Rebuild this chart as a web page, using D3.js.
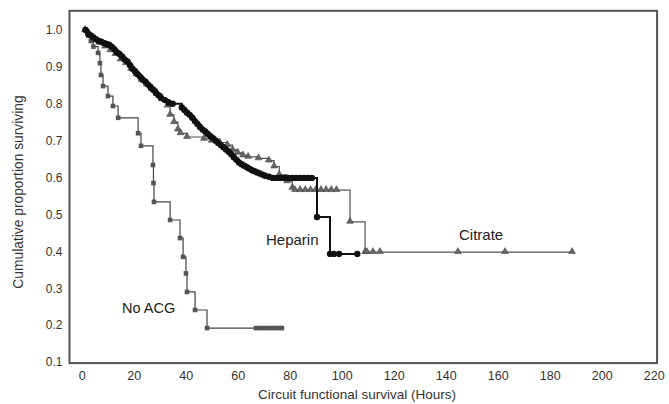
<!DOCTYPE html>
<html>
<head>
<meta charset="utf-8">
<script src="https://cdn.jsdelivr.net/npm/d3@7"></script>
<style>
  html, body { margin: 0; padding: 0; background: #fff; }
  svg { display: block; }
  text { font-family: Arial, "Liberation Sans", sans-serif; }
</style>
</head>
<body>
<svg id="chart" width="669" height="404"></svg>
<script>
// ---- data ----
const xTicks = [0, 20, 40, 60, 80, 100, 120, 140, 160, 180, 200, 220];
const yTicks = [1.0, 0.9, 0.8, 0.7, 0.6, 0.5, 0.4, 0.3, 0.2, 0.1];
const yTickLabels = ["1.0", "0.9", "0.8", "0.7", "0.6", "0.5", "0.4", "0.3", "0.2", "0.1"];

// No ACG: [time (h), cumulative proportion surviving]
const noAcgSteps = [
  [1.3, 1.0], [2.5, 0.985], [3.5, 0.97], [4.5, 0.955], [6.3, 0.938], [7.0, 0.91],
  [7.4, 0.878], [8.2, 0.848], [10.1, 0.821], [12.0, 0.794], [14.0, 0.762],
  [21.7, 0.72], [22.8, 0.686], [27.4, 0.634], [27.6, 0.585], [27.8, 0.534],
  [34.0, 0.485], [37.8, 0.436], [39.0, 0.385], [40.1, 0.34], [40.5, 0.29],
  [43.6, 0.241], [48.2, 0.192]
];
const noAcgCensored = [67, 68.5, 70, 71.5, 73, 74.5, 76, 77];

// Heparin
const heparinSteps = [
  [1.5, 1.0], [2.5, 0.99], [3.5, 0.985], [4.5, 0.98], [5.5, 0.975], [6.5, 0.97],
  [7.5, 0.968], [8.5, 0.965], [9.5, 0.962], [10.5, 0.96], [11.5, 0.955], [12.5, 0.948],
  [13.5, 0.94], [14.5, 0.935], [15.5, 0.928], [16.5, 0.92], [17.5, 0.915], [18.5, 0.905],
  [19.5, 0.895], [20.5, 0.888], [21.5, 0.88], [22.5, 0.873], [23.5, 0.865], [24.5, 0.86],
  [25.5, 0.852], [26.5, 0.845], [27.5, 0.838], [28.5, 0.83], [29.5, 0.823], [30.5, 0.816],
  [32.0, 0.81], [33.5, 0.803], [35.0, 0.8], [38.5, 0.79], [39.5, 0.783], [40.5, 0.776],
  [41.5, 0.77], [42.5, 0.762], [43.5, 0.753], [44.5, 0.745], [45.5, 0.737], [46.5, 0.73],
  [47.5, 0.725], [48.5, 0.718], [49.5, 0.712], [50.5, 0.707], [51.5, 0.7], [52.5, 0.694],
  [53.5, 0.688], [54.5, 0.682], [55.5, 0.676], [56.5, 0.67], [57.5, 0.663], [58.5, 0.655],
  [59.5, 0.648], [60.5, 0.641], [61.5, 0.636], [62.5, 0.632], [63.5, 0.628], [64.5, 0.624],
  [65.5, 0.62], [66.5, 0.617], [67.5, 0.614], [68.5, 0.611], [69.5, 0.608], [70.5, 0.605],
  [72.0, 0.602], [73.5, 0.599], [90.5, 0.493], [95.5, 0.393]
];
const heparinCensored = [75, 76.5, 78, 79.5, 81, 82.5, 84, 85.5, 87, 88.5, 97, 99, 106];

// Citrate
const citrateSteps = [
  [1.3, 1.0], [3.0, 0.985], [5.0, 0.975], [7.0, 0.965], [9.0, 0.955], [11.0, 0.945],
  [13.0, 0.935], [15.0, 0.92], [17.0, 0.91], [19.0, 0.895], [21.0, 0.88], [23.0, 0.865],
  [25.0, 0.852], [27.0, 0.84], [29.0, 0.826], [31.0, 0.812], [33.0, 0.795], [34.0, 0.77],
  [35.5, 0.75], [37.0, 0.73], [38.0, 0.72], [40.5, 0.71], [47.0, 0.705], [50.0, 0.7],
  [53.0, 0.695], [56.0, 0.688], [58.0, 0.675], [60.0, 0.667], [62.0, 0.66], [64.0, 0.656],
  [68.0, 0.652], [72.0, 0.646], [74.0, 0.63], [76.0, 0.607], [79.0, 0.59], [81.0, 0.572],
  [82.0, 0.566], [103.2, 0.48], [109.0, 0.398]
];
const citrateCensored = [84, 86, 88, 90, 92, 94, 96, 98, 109.7, 112, 114.7, 144.7, 162.8, 188.6];

// ---- drawing ----
const svg = d3.select("#chart");
const x = d3.scaleLinear().domain([0, 200]).range([81.7, 601.7]);
const y = d3.scaleLinear().domain([0.1, 1.0]).range([362, 30]);

// frame
svg.append("rect")
  .attr("x", x(-4.7)).attr("y", y(1.052))
  .attr("width", x(221.3) - x(-4.7)).attr("height", y(0.097) - y(1.052))
  .attr("fill", "none").attr("stroke", "#555").attr("stroke-width", 2);

// axes (labels only, no tick marks)
const xAxis = d3.axisBottom(x).tickValues(xTicks).tickSize(0).tickPadding(0);
const gx = svg.append("g").attr("transform", `translate(0, ${y(0.097) + 8})`).call(xAxis);
gx.select(".domain").remove();
gx.selectAll("text").attr("font-size", 12.5).attr("fill", "#333").attr("dy", "0.71em")
  .attr("font-family", "Arial, 'Liberation Sans', sans-serif");

const yAxis = d3.axisLeft(y).tickValues(yTicks).tickSize(0).tickPadding(0)
  .tickFormat((d, i) => yTickLabels[i]);
const gy = svg.append("g").attr("transform", `translate(${x(-4.7) - 7}, 0)`).call(yAxis);
gy.select(".domain").remove();
gy.selectAll("text").attr("font-size", 12).attr("fill", "#333")
  .attr("font-family", "Arial, 'Liberation Sans', sans-serif");

// axis titles
svg.append("text")
  .attr("x", 357).attr("y", 399)
  .attr("text-anchor", "middle").attr("font-size", 13.5).attr("fill", "#333")
  .text("Circuit functional survival (Hours)");
svg.append("text")
  .attr("transform", "translate(23, 192) rotate(-90)")
  .attr("text-anchor", "middle").attr("font-size", 13.8).attr("fill", "#333")
  .text("Cumulative proportion surviving");

function levelAt(steps, t) {
  let s = steps[0][1];
  for (const p of steps) if (p[0] <= t) s = p[1];
  return s;
}
function pathPoints(steps, censored) {
  const pts = steps.map(d => [d[0], d[1]]);
  censored.forEach(c => pts.push([c, levelAt(steps, c)]));
  pts.sort((a, b) => a[0] - b[0]);
  return pts;
}
const line = d3.line().x(d => x(d[0])).y(d => y(d[1])).curve(d3.curveStepAfter);

// No ACG
const noAcgPts = pathPoints(noAcgSteps, noAcgCensored);
svg.append("path").attr("d", line(noAcgPts))
  .attr("fill", "none").attr("stroke", "#444").attr("stroke-width", 1.2);
svg.append("g").selectAll("rect").data(noAcgPts).join("rect")
  .attr("x", d => x(d[0]) - 2.3).attr("y", d => y(d[1]) - 2.3)
  .attr("width", 4.6).attr("height", 4.6).attr("fill", "#555");

// Citrate
const citratePts = pathPoints(citrateSteps, citrateCensored);
svg.append("path").attr("d", line(citratePts))
  .attr("fill", "none").attr("stroke", "#555").attr("stroke-width", 1.2);
const tri = d3.symbol().type(d3.symbolTriangle).size(20);
svg.append("g").selectAll("path").data(citratePts).join("path")
  .attr("d", tri)
  .attr("transform", d => `translate(${x(d[0])}, ${y(d[1]) - 0.5})`)
  .attr("fill", "#666").attr("stroke", "#444").attr("stroke-width", 0.6);

// Heparin
const heparinPts = pathPoints(heparinSteps, heparinCensored);
svg.append("path").attr("d", line(heparinPts))
  .attr("fill", "none").attr("stroke", "#111").attr("stroke-width", 2);
svg.append("g").selectAll("circle").data(heparinPts).join("circle")
  .attr("cx", d => x(d[0])).attr("cy", d => y(d[1])).attr("r", 3.2)
  .attr("fill", "#111");

// series labels
svg.append("text").attr("x", 266).attr("y", 245).attr("font-size", 15).attr("fill", "#222").text("Heparin");
svg.append("text").attr("x", 459).attr("y", 240).attr("font-size", 15).attr("fill", "#222").text("Citrate");
svg.append("text").attr("x", 122).attr("y", 313).attr("font-size", 14.5).attr("fill", "#222").text("No ACG");
</script>
</body>
</html>
